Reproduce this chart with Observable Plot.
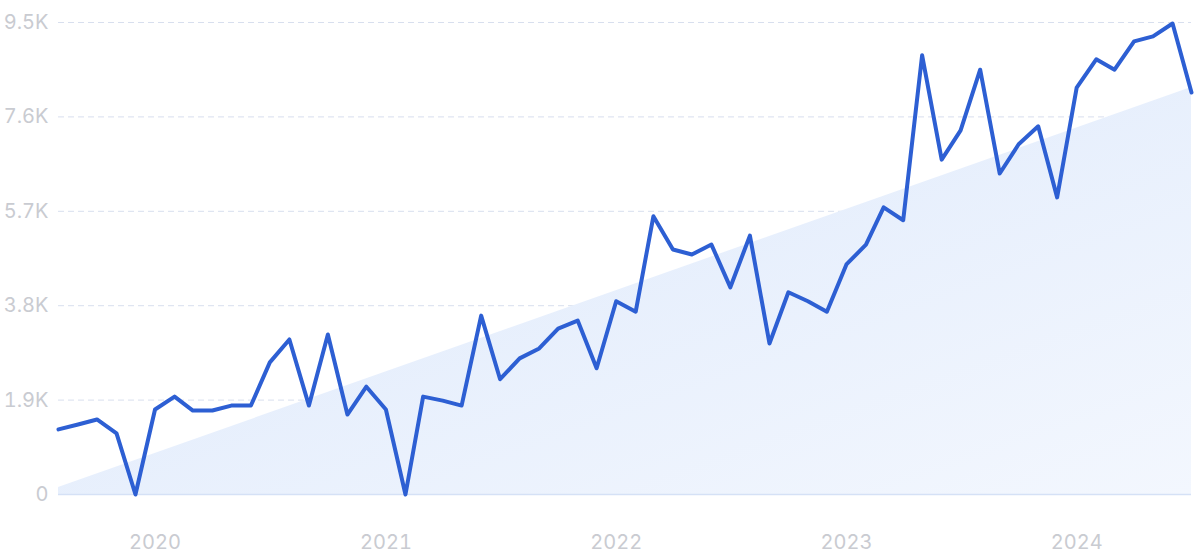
<!DOCTYPE html>
<html>
<head>
<meta charset="utf-8">
<script src="https://cdn.jsdelivr.net/npm/d3@7"></script>
<script src="https://cdn.jsdelivr.net/npm/@observablehq/plot@0.6"></script>
<style>
  html, body { margin: 0; padding: 0; background: #fff; }
  #chart { width: 1200px; height: 557px; }
</style>
</head>
<body>
<div id="chart"></div>
<script>
// Monthly series, Aug 2019 – Jul 2024
const startMonth = "2019-08-01";
const values = [
  1310, 1410, 1510, 1230, 0, 1710, 1970, 1690, 1690, 1790,
  1790, 2660, 3120, 1790, 3220, 1610, 2170, 1710, 0, 1970,
  1890, 1790, 3600, 2320, 2740, 2940, 3340, 3500, 2540, 3890,
  3680, 5600, 4930, 4830, 5030, 4170, 5210, 3040, 4070, 3890,
  3680, 4630, 5030, 5780, 5520, 8840, 6740, 7330, 8550, 6460,
  7050, 7410, 5980, 8190, 8760, 8550, 9120, 9220, 9480, 8090
];
const trendValues = [140, 8190];
const yTicks = [0, 1900, 3800, 5700, 7600, 9500];
const xTickYears = [2020, 2021, 2022, 2023, 2024];

const start = new Date(startMonth + "T00:00:00Z");
const months = values.map((_, i) => new Date(Date.UTC(start.getUTCFullYear(), start.getUTCMonth() + i, 1)));
const series = values.map((v, i) => ({date: months[i], value: v}));
const trend = [
  {date: months[0], value: trendValues[0]},
  {date: months[months.length - 1], value: trendValues[1]}
];
const xTicks = xTickYears.map(y => new Date(Date.UTC(y, 0, 1)));

const defs = () => {
  const g = d3.create("svg:defs");
  const lg = g.append("linearGradient")
    .attr("id", "trendGrad")
    .attr("x1", "0").attr("y1", "0").attr("x2", "1").attr("y2", "1");
  lg.append("stop").attr("offset", "0%").attr("stop-color", "#dce8fb");
  lg.append("stop").attr("offset", "100%").attr("stop-color", "#f3f7fe");
  return g.node();
};

const plot = Plot.plot({
  width: 1200,
  height: 557,
  marginLeft: 58,
  marginRight: 9,
  marginTop: 22,
  marginBottom: 63,
  style: {fontFamily: "Inter, sans-serif", fontSize: "20px", color: "#c9cbd1", background: "#fff"},
  x: {type: "utc", domain: [months[0], months[months.length - 1]], ticks: xTicks, tickFormat: d3.utcFormat("%Y"), tickSize: 0, tickPadding: 40, label: null},
  y: {domain: [0, 9500], ticks: yTicks, tickFormat: d => d === 0 ? "0" : (d / 1000).toFixed(1) + "K", tickSize: 0, tickPadding: 10, label: null},
  marks: [
    defs,
    Plot.gridY(yTicks.filter(d => d > 0), {stroke: "#d8dfee", strokeOpacity: 1, strokeDasharray: "6,4"}),
    Plot.areaY(trend, {x: "date", y: "value", fill: "url(#trendGrad)"}),
    Plot.ruleY([0], {stroke: "#d5e1f6", strokeWidth: 1.5}),
    Plot.lineY(series, {x: "date", y: "value", stroke: "#2d5fd3", strokeWidth: 4, strokeLinejoin: "round", strokeLinecap: "round"})
  ]
});
document.getElementById("chart").appendChild(plot);
</script>
</body>
</html>
